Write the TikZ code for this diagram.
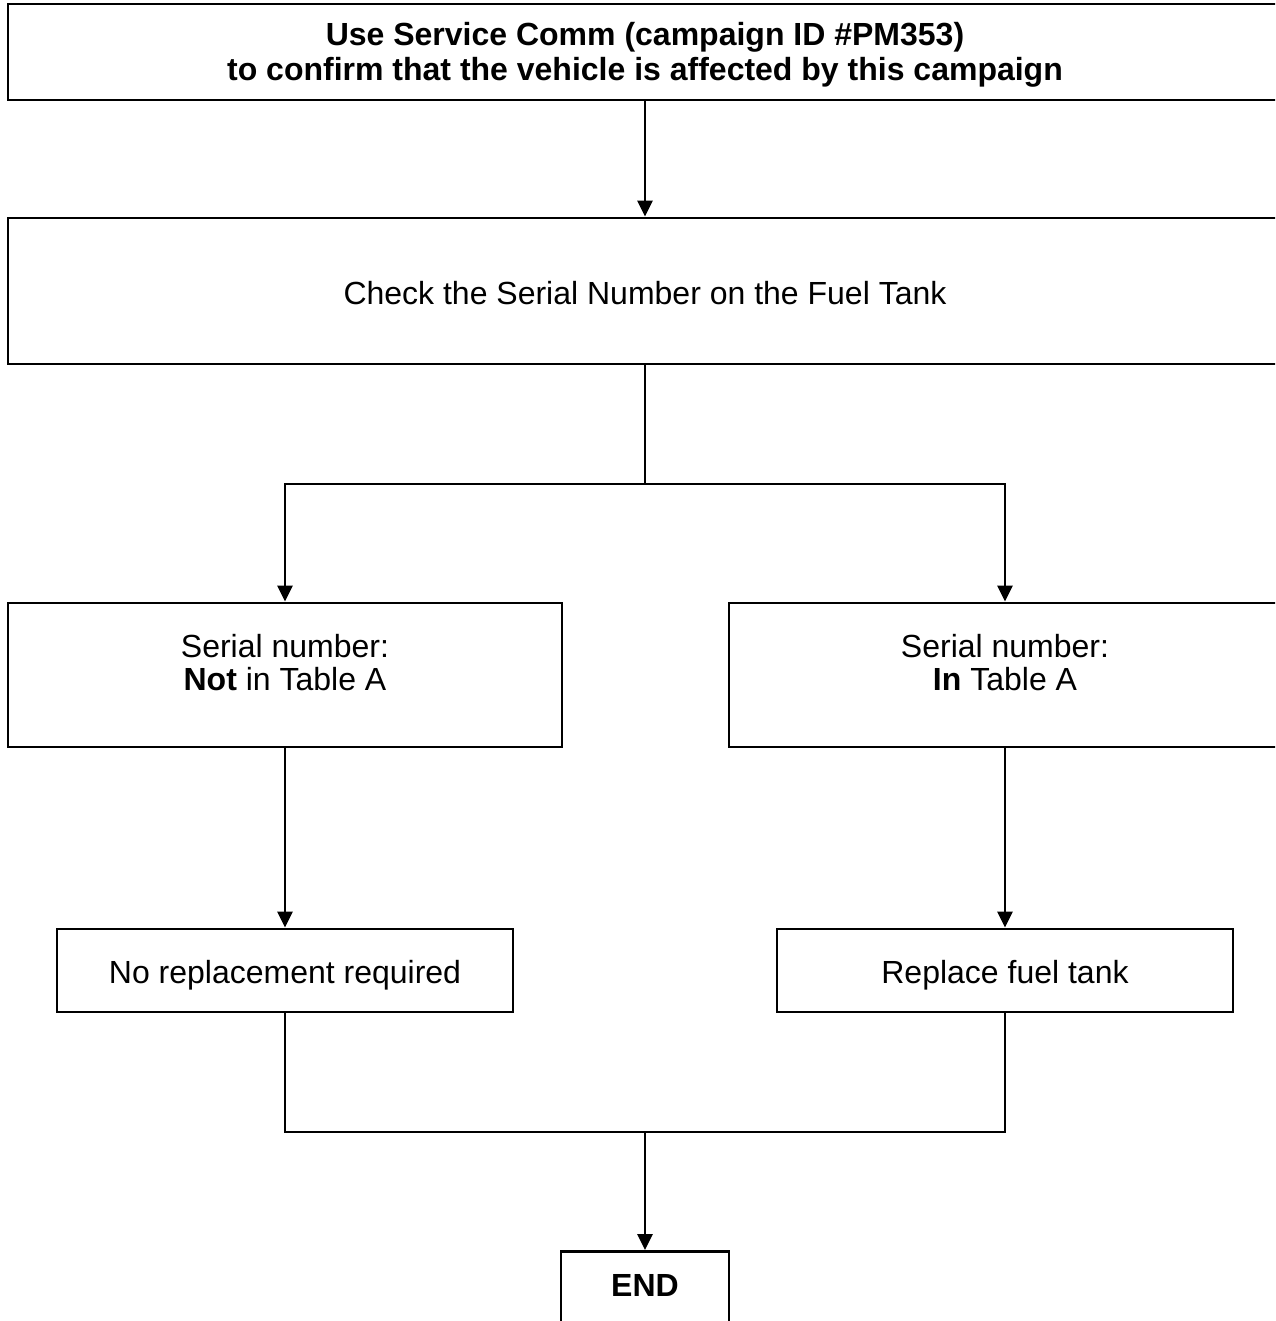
\documentclass[tikz,border=0pt]{standalone}
\usepackage{fontspec}
\setmainfont{Liberation Sans}
\usetikzlibrary{arrows.meta}
\tikzset{
  box/.style={draw, line width=1.4pt, rectangle, inner sep=0pt, align=center},
  txt/.style={align=center, inner sep=0pt},
  conn/.style={line width=1.4pt},
  arr/.style={conn, -{Triangle[length=8pt,width=7.5pt]}},
}
\begin{document}
\begin{tikzpicture}[x=0.5pt, y=-0.5pt, font=\fontsize{16}{16.5}\selectfont]
\useasboundingbox (0,0) rectangle (1275,1321);
\clip (0,0) rectangle (1275,1321);
% boxes
\node[box, minimum width=637pt, minimum height=48pt] (top) at (645,52) {};
\node[txt, font=\bfseries\fontsize{16}{17.5}\selectfont] (toptxt) at (645,54.5)
  {Use Service Comm (campaign ID \#PM353)\\to confirm that the vehicle is affected by this campaign};
\node[box, minimum width=637pt, minimum height=73pt] (check) at (645,291) {};
\node[txt] (checktxt) at (645,293) {Check the Serial Number on the Fuel Tank};
\node[box, minimum width=277pt, minimum height=72pt] (left) at (285,675) {};
\node[txt] (lefttxt) at (285,663) {Serial number:\\\textbf{Not} in Table A};
\node[box, minimum width=276pt, minimum height=72pt] (right) at (1005,675) {};
\node[txt] (righttxt) at (1005,663) {Serial number:\\\textbf{In} Table A};
\node[box, minimum width=228pt, minimum height=41.5pt] (norep) at (285,970.5) {};
\node[txt] (noreptxt) at (285,975.5) {No replacement required};
\node[box, minimum width=228pt, minimum height=41.5pt] (repl) at (1005,970.5) {};
\node[txt] (repltxt) at (1005,975.5) {Replace fuel tank};
\node[box, minimum width=84pt, minimum height=60pt, anchor=north] (end) at (645,1250) {};
\node[txt, font=\bfseries\fontsize{16}{16.5}\selectfont] (endtxt) at (645,1285) {END};
% junctions
\coordinate (j1) at (645,484);
\coordinate (j2) at (645,1132);
% connectors
\draw[arr] (top) -- (check);
\draw[conn] (check.south) -- (j1);
\draw[arr] (j1) -| (left.north);
\draw[arr] (j1) -| (right.north);
\draw[arr] (left) -- (norep);
\draw[arr] (right) -- (repl);
\draw[conn] (norep.south) |- (j2);
\draw[conn] (repl.south) |- (j2);
\draw[arr] (j2) -- (end.north);
\end{tikzpicture}
\end{document}
